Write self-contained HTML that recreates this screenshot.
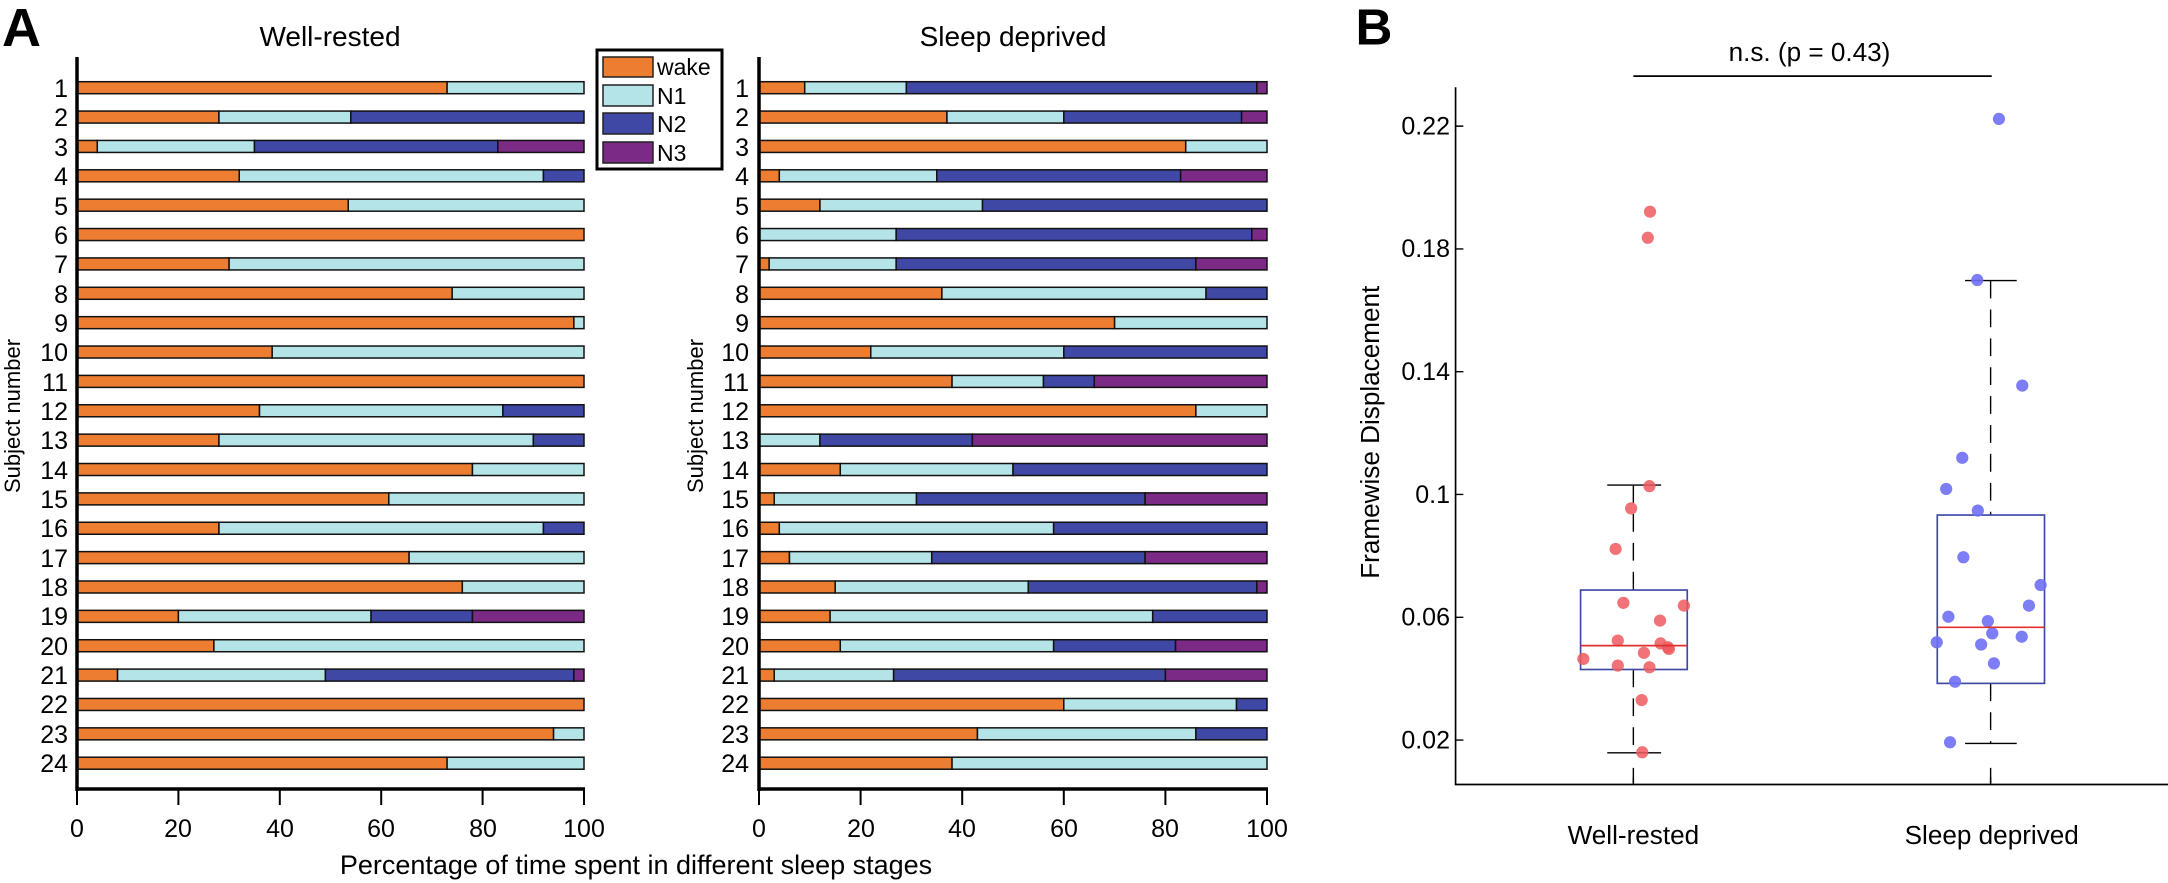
<!DOCTYPE html>
<html><head><meta charset="utf-8"><style>
html,body{margin:0;padding:0;background:#fff;}
svg{display:block;font-family:"Liberation Sans",Arial,sans-serif;}
</style></head><body>
<svg id="s" width="2168" height="883" viewBox="0 0 2168 883" xmlns="http://www.w3.org/2000/svg">
<rect width="2168" height="883" fill="#fff"/>
<text x="2" y="46" font-size="54" font-weight="bold">A</text>
<text x="330" y="46" font-size="28" text-anchor="middle">Well-rested</text>
<text x="1013" y="46" font-size="28" text-anchor="middle">Sleep deprived</text>
<g id="bars"></g>
<g stroke="#000" fill="none">
<line x1="77" y1="57" x2="77" y2="791" stroke-width="3.5"/>
<line x1="76" y1="789" x2="585" y2="789" stroke-width="3.5"/>
<line x1="759" y1="57" x2="759" y2="791" stroke-width="3.5"/>
<line x1="758" y1="789" x2="1268" y2="789" stroke-width="3.5"/>
<g stroke-width="2">
<path d="M77 789v16M178.4 789v16M279.8 789v16M381.2 789v16M482.6 789v16M584 789v16"/>
<path d="M759 789v16M860.6 789v16M962.2 789v16M1063.8 789v16M1165.4 789v16M1267 789v16"/>
</g>
</g>
<g font-size="25" text-anchor="middle">
<text x="77" y="837">0</text><text x="178" y="837">20</text><text x="280" y="837">40</text><text x="381" y="837">60</text><text x="483" y="837">80</text><text x="584" y="837">100</text>
<text x="759" y="837">0</text><text x="861" y="837">20</text><text x="962" y="837">40</text><text x="1064" y="837">60</text><text x="1165" y="837">80</text><text x="1267" y="837">100</text>
</g>
<text x="636" y="874" font-size="27" text-anchor="middle">Percentage of time spent in different sleep stages</text>
<text transform="translate(20,416) rotate(-90)" font-size="22" text-anchor="middle">Subject number</text>
<text transform="translate(703,416) rotate(-90)" font-size="22" text-anchor="middle">Subject number</text>
<g id="labels" font-size="25" text-anchor="end">
<text x="68" y="97">1</text><text x="68" y="126">2</text><text x="68" y="156">3</text><text x="68" y="185">4</text><text x="68" y="215">5</text><text x="68" y="244">6</text><text x="68" y="273">7</text><text x="68" y="303">8</text><text x="68" y="332">9</text><text x="68" y="361">10</text><text x="68" y="391">11</text><text x="68" y="420">12</text><text x="68" y="449">13</text><text x="68" y="479">14</text><text x="68" y="508">15</text><text x="68" y="537">16</text><text x="68" y="567">17</text><text x="68" y="596">18</text><text x="68" y="625">19</text><text x="68" y="655">20</text><text x="68" y="684">21</text><text x="68" y="713">22</text><text x="68" y="743">23</text><text x="68" y="772">24</text>
<text x="749" y="97">1</text><text x="749" y="126">2</text><text x="749" y="156">3</text><text x="749" y="185">4</text><text x="749" y="215">5</text><text x="749" y="244">6</text><text x="749" y="273">7</text><text x="749" y="303">8</text><text x="749" y="332">9</text><text x="749" y="361">10</text><text x="749" y="391">11</text><text x="749" y="420">12</text><text x="749" y="449">13</text><text x="749" y="479">14</text><text x="749" y="508">15</text><text x="749" y="537">16</text><text x="749" y="567">17</text><text x="749" y="596">18</text><text x="749" y="625">19</text><text x="749" y="655">20</text><text x="749" y="684">21</text><text x="749" y="713">22</text><text x="749" y="743">23</text><text x="749" y="772">24</text>
</g>
<rect x="597" y="50" width="125" height="119" fill="#fff" stroke="#000" stroke-width="3"/>
<g stroke="#222" stroke-width="1.5">
<rect x="603" y="57" width="50" height="20" fill="#ED7D31"/>
<rect x="603" y="85" width="50" height="21" fill="#B4E4E8"/>
<rect x="603" y="113" width="50" height="21" fill="#3F48A5"/>
<rect x="603" y="142" width="50" height="21" fill="#7B2A86"/>
</g>
<g font-size="23">
<text x="657" y="75">wake</text><text x="657" y="104">N1</text><text x="657" y="132">N2</text><text x="657" y="161">N3</text>
</g>

<g transform="translate(1300,0) scale(0.5556)">
<text x="100" y="80" font-size="92" font-weight="bold">B</text>
<text x="917" y="110" font-size="47" text-anchor="middle">n.s. (p = 0.43)</text>
<line x1="600" y1="137" x2="1245" y2="137" stroke="#000" stroke-width="3"/>
<path d="M280 157V1412H1566" fill="none" stroke="#000" stroke-width="3"/>
<g stroke="#000" stroke-width="2.5">
<path d="M280 227h14M280 448h14M280 669h14M280 890h14M280 1111h14M280 1332h14M600 1412v-14M1243 1412v-14"/>
</g>
<g font-size="45" text-anchor="end">
<text x="270" y="242">0.22</text><text x="270" y="463">0.18</text><text x="270" y="684">0.14</text><text x="270" y="905">0.1</text><text x="270" y="1126">0.06</text><text x="270" y="1347">0.02</text>
</g>
<text transform="translate(142,778) rotate(-90)" font-size="47" text-anchor="middle">Framewise Displacement</text>
<text x="600" y="1519" font-size="47" text-anchor="middle">Well-rested</text>
<text x="1245" y="1519" font-size="47" text-anchor="middle">Sleep deprived</text>
<g stroke="#000" stroke-width="2.5" fill="none">
<path d="M600 873V1062M600 1205V1355" stroke-dasharray="32,20"/>
<path d="M553 873h97M553 1355h97"/>
<path d="M1243 505V927M1243 1230V1338" stroke-dasharray="32,20"/>
<path d="M1197 505h93M1197 1338h93"/>
<path d="M600 1412v-30M1243 1412v-30"/>
</g>
<rect x="505" y="1062" width="192" height="143" fill="none" stroke="#3F48A5" stroke-width="3"/>
<rect x="1147" y="927" width="193" height="303" fill="none" stroke="#3F48A5" stroke-width="3"/>
<g fill="#EE5A5F" fill-opacity="0.85">
<circle cx="630" cy="381" r="11"/><circle cx="626" cy="428" r="11"/><circle cx="629" cy="875" r="11"/><circle cx="596" cy="915" r="11"/><circle cx="568" cy="988" r="11"/><circle cx="582" cy="1085" r="11"/><circle cx="691" cy="1090" r="11"/><circle cx="648" cy="1117" r="11"/><circle cx="572" cy="1153" r="11"/><circle cx="649" cy="1158" r="11"/><circle cx="664" cy="1168" r="11"/><circle cx="662" cy="1165" r="11"/><circle cx="619" cy="1175" r="11"/><circle cx="510" cy="1186" r="11"/><circle cx="572" cy="1198" r="11"/><circle cx="629" cy="1201" r="11"/><circle cx="615" cy="1260" r="11"/><circle cx="616" cy="1354" r="11"/>
</g>
<g fill="#6F6FF5" fill-opacity="0.9">
<circle cx="1258" cy="214" r="11"/><circle cx="1219" cy="504" r="11"/><circle cx="1300" cy="694" r="11"/><circle cx="1192" cy="824" r="11"/><circle cx="1163" cy="880" r="11"/><circle cx="1220" cy="919" r="11"/><circle cx="1194" cy="1003" r="11"/><circle cx="1333" cy="1053" r="11"/><circle cx="1312" cy="1090" r="11"/><circle cx="1167" cy="1110" r="11"/><circle cx="1238" cy="1118" r="11"/><circle cx="1246" cy="1140" r="11"/><circle cx="1299" cy="1146" r="11"/><circle cx="1146" cy="1156" r="11"/><circle cx="1226" cy="1160" r="11"/><circle cx="1249" cy="1194" r="11"/><circle cx="1179" cy="1227" r="11"/><circle cx="1170" cy="1336" r="11"/>
</g>
<line x1="505" y1="1162" x2="697" y2="1162" stroke="#E03030" stroke-width="3"/>
<line x1="1147" y1="1129" x2="1340" y2="1129" stroke="#E03030" stroke-width="3"/>
</g>
</svg>
<script>
var C=["#ED7D31","#B4E4E8","#3F48A5","#7B2A86"];
var WR=[[73,100],[28,54,100],[4,35,83,100],[32,92,100],[53.5,100],[100],[30,100],[74,100],[98,100],[38.5,100],[100],[36,84,100],[28,90,100],[78,100],[61.5,100],[28,92,100],[65.5,100],[76,100],[20,58,78,100],[27,100],[8,49,98,100],[100],[94,100],[73,100]];
var SD=[[9,29,98,100],[37,60,95,100],[84,100],[4,35,83,100],[12,44,100],[0,27,97,100],[2,27,86,100],[36,88,100],[70,100],[22,60,100],[38,56,66,100],[86,100],[0,12,42,100],[16,50,100],[3,31,76,100],[4,58,100],[6,34,76,100],[15,53,98,100],[14,77.5,100],[16,58,82,100],[3,26.5,80,100],[60,94,100],[43,86,100],[38,100]];
var g=document.getElementById("bars"),h="";
function draw(D,x0,w){for(var i=0;i<24;i++){var yc=87.7+i*29.37,p=0,d=D[i];for(var k=0;k<d.length;k++){var q=d[k];if(q>p){h+='<rect x="'+(x0+p*w/100)+'" y="'+(yc-6)+'" width="'+((q-p)*w/100)+'" height="12" fill="'+C[k]+'" stroke="#111" stroke-width="1.5"/>';}p=q;}}}
draw(WR,77,507);draw(SD,759,508);
g.innerHTML=h;
</script>
</body></html>
